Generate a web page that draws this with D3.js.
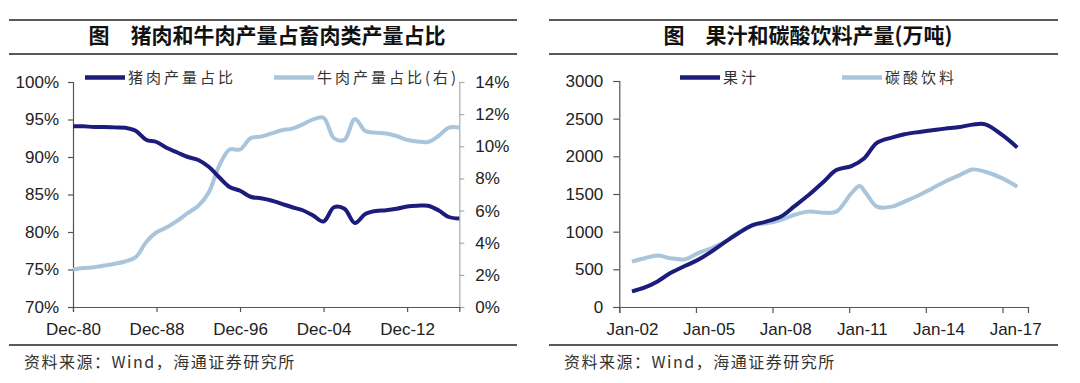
<!DOCTYPE html>
<html>
<head>
<meta charset="utf-8">
<script src="https://d3js.org/d3.v7.min.js"></script>
<style>
  body { margin: 0; background: #fff; }
  svg { display: block; }
  .tick text { font-family: Arial, "Liberation Sans", sans-serif; font-size: 17px; fill: #222; }
  .cjk { font-family: "Noto Sans CJK SC", sans-serif; }
</style>
</head>
<body>
<svg id="chart" width="1080" height="383"></svg>
<script>
// left chart: pork / beef share of meat output, yearly 1980-2017
const years = d3.range(1980, 2018)
const porkShare = [94.1, 94.1, 94.0, 94.0, 93.95, 93.9, 93.5, 92.3, 92.0, 91.2,
  90.6, 90.0, 89.6, 88.7, 87.3, 86.0, 85.5, 84.7, 84.5, 84.2,
  83.75, 83.3, 82.9, 82.2, 81.4, 83.3, 83.1, 81.2, 82.4, 82.8,
  82.9, 83.1, 83.4, 83.5, 83.5, 82.9, 82.0, 81.8]
const beefShare = [2.33, 2.42, 2.48, 2.58, 2.69, 2.83, 3.1, 4.03, 4.65, 4.96,
  5.37, 5.85, 6.3, 7.13, 8.78, 9.8, 9.8, 10.5, 10.6, 10.8,
  11.0, 11.1, 11.36, 11.67, 11.78, 10.5, 10.4, 11.7, 10.95, 10.85,
  10.8, 10.64, 10.4, 10.3, 10.27, 10.64, 11.16, 11.16]
const leftTicks = [70, 75, 80, 85, 90, 95, 100]
const rightTicks = [0, 2, 4, 6, 8, 10, 12, 14]
const yearTicks = [1980, 1988, 1996, 2004, 2012]

// right chart: juice / carbonated drinks output (10k tons)
const juiceDates = ["2002-07", "2003-01", "2003-07", "2004-01", "2004-08", "2005-02", "2005-09",
  "2006-03", "2006-09", "2007-04", "2007-10", "2008-05", "2008-11", "2009-06", "2010-01",
  "2010-07", "2011-02", "2011-08", "2012-02", "2012-09", "2013-03", "2013-10", "2014-04",
  "2014-10", "2015-05", "2015-11", "2016-05", "2017-01", "2017-08"]
const juice = [207, 260, 340, 450, 547, 626, 750, 869, 979, 1089, 1133, 1200, 1332, 1486, 1663,
  1817, 1870, 1971, 2179, 2249, 2293, 2324, 2346, 2368, 2390, 2421, 2425, 2280, 2117]
const sodaDates = ["2002-07", "2003-01", "2003-07", "2004-01", "2004-08", "2005-02", "2005-09",
  "2006-03", "2006-09", "2007-04", "2007-10", "2008-05", "2008-11", "2009-06", "2010-01",
  "2010-07", "2011-02", "2011-06", "2011-09", "2012-02", "2012-09", "2013-03", "2013-10",
  "2014-04", "2014-10", "2015-05", "2015-11", "2016-05", "2017-01", "2017-08"]
const soda = [604, 648, 684, 648, 635, 714, 789, 869, 988, 1089, 1111, 1155, 1221, 1266, 1252,
  1266, 1508, 1605, 1508, 1332, 1332, 1398, 1486, 1574, 1663, 1751, 1826, 1795, 1707, 1596]
const volTicks = [0, 500, 1000, 1500, 2000, 2500, 3000]
const dateTicks = ["2002", "2005", "2008", "2011", "2014", "2017"]

const dark = "#1c1c7c", light = "#a9c5dc"
const svg = d3.select("#chart")
const parseM = d3.timeParse("%Y-%m")

function frame(x0, x1, cx, title, source) {
  svg.append("line").attr("x1", x0).attr("x2", x1).attr("y1", 20).attr("y2", 20).attr("stroke", "#222").attr("stroke-width", 1.3)
  svg.append("line").attr("x1", x0).attr("x2", x1).attr("y1", 54).attr("y2", 54).attr("stroke", "#222").attr("stroke-width", 1.3)
  svg.append("line").attr("x1", x0).attr("x2", x1).attr("y1", 345).attr("y2", 345).attr("stroke", "#222").attr("stroke-width", 1.3)
  svg.append("text").attr("class", "cjk").attr("x", cx).attr("y", 43)
    .attr("text-anchor", "middle").attr("font-size", 21).attr("font-weight", "bold").attr("fill", "#111")
    .text(title)
  svg.append("text").attr("class", "cjk").attr("x", x0 + 15).attr("y", 368)
    .attr("font-size", 16).attr("letter-spacing", 1.5).attr("fill", "#333")
    .text(source)
}

function legend(x, label, color) {
  svg.append("line").attr("x1", x).attr("x2", x + 40).attr("y1", 77.5).attr("y2", 77.5)
    .attr("stroke", color).attr("stroke-width", 4.5)
  svg.append("text").attr("class", "cjk").attr("x", x + 43).attr("y", 83)
    .attr("font-size", 15).attr("letter-spacing", 3).attr("fill", "#333").text(label)
}

function styleAxis(g, color) {
  g.select(".domain").attr("stroke", color).attr("stroke-width", 1.2)
  g.selectAll(".tick line").attr("stroke", color).attr("stroke-width", 1.2)
}

// ---- left chart
frame(9, 517, 267, "图\u3000猪肉和牛肉产量占畜肉类产量占比", "资料来源：Wind，海通证券研究所")

const x1 = d3.scaleLinear().domain([1980, 2017]).range([73, 459.3])
const yL = d3.scaleLinear().domain([70, 100]).range([307, 82])
const yR = d3.scaleLinear().domain([0, 14]).range([307, 82])

const gLeft = svg.append("g").attr("transform", "translate(73,0)")
  .call(d3.axisLeft(yL).tickValues(leftTicks).tickSize(5).tickPadding(9).tickFormat(d => d + "%"))
styleAxis(gLeft, "#555")
const gRight = svg.append("g").attr("transform", "translate(459.3,0)")
  .call(d3.axisRight(yR).tickValues(rightTicks).tickSize(5).tickPadding(11).tickFormat(d => d + "%"))
styleAxis(gRight, "#aaa")
const gX1 = svg.append("g").attr("transform", "translate(0,307)")
  .call(d3.axisBottom(x1).tickValues(yearTicks).tickSize(5).tickPadding(11)
    .tickFormat(d => "Dec-" + String(d).slice(2)))
styleAxis(gX1, "#555")

svg.append("path").datum(beefShare)
  .attr("fill", "none").attr("stroke", light).attr("stroke-width", 4)
  .attr("d", d3.line().x((d, i) => x1(years[i])).y(d => yR(d)).curve(d3.curveCatmullRom.alpha(0.5)))
svg.append("path").datum(porkShare)
  .attr("fill", "none").attr("stroke", dark).attr("stroke-width", 4)
  .attr("d", d3.line().x((d, i) => x1(years[i])).y(d => yL(d)).curve(d3.curveCatmullRom.alpha(0.5)))

legend(85, "猪肉产量占比", dark)
legend(274, "牛肉产量占比(右)", light)

// ---- right chart
frame(549, 1058, 808, "图\u3000果汁和碳酸饮料产量(万吨)", "资料来源：Wind，海通证券研究所")

const x2 = d3.scaleTime().domain([new Date(2002, 0, 1), new Date(2018, 0, 1)]).range([619.3, 1028])
const y2 = d3.scaleLinear().domain([0, 3000]).range([307, 81])
const halfYear = x2(new Date(2002, 6, 1)) - x2(new Date(2002, 0, 1))

const gY2 = svg.append("g").attr("transform", "translate(619.3,0)")
  .call(d3.axisLeft(y2).tickValues(volTicks).tickSize(6).tickPadding(10).tickFormat(d3.format("d")))
styleAxis(gY2, "#555")
const gX2 = svg.append("g").attr("transform", "translate(0,307)")
  .call(d3.axisBottom(x2).tickValues(dateTicks.map(y => new Date(+y, 0, 1))).tickSize(6).tickPadding(10)
    .tickFormat(d3.timeFormat("Jan-%y")))
styleAxis(gX2, "#555")
gX2.selectAll(".tick text").attr("dx", halfYear)

svg.append("path").datum(soda)
  .attr("fill", "none").attr("stroke", light).attr("stroke-width", 4)
  .attr("d", d3.line().x((d, i) => x2(parseM(sodaDates[i]))).y(d => y2(d)).curve(d3.curveCatmullRom.alpha(0.5)))
svg.append("path").datum(juice)
  .attr("fill", "none").attr("stroke", dark).attr("stroke-width", 4)
  .attr("d", d3.line().x((d, i) => x2(parseM(juiceDates[i]))).y(d => y2(d)).curve(d3.curveCatmullRom.alpha(0.5)))

legend(680, "果汁", dark)
legend(842, "碳酸饮料", light)
</script>
</body>
</html>
